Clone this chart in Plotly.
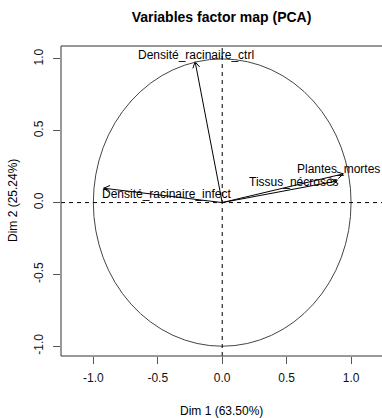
import math
import plotly.graph_objects as go

# ---- data ----
variables = ["Densité_racinaire_ctrl", "Plantes_mortes", "Tissus_nécrosés", "Densité_racinaire_infect"]
dim1 = [-0.21, 0.94, 0.89, -0.92]
dim2 = [0.98, 0.20, 0.15, 0.10]
x_ticks = [-1.0, -0.5, 0.0, 0.5, 1.0]
y_ticks = [-1.0, -0.5, 0.0, 0.5, 1.0]
x_tick_labels = ["-1.0", "-0.5", "0.0", "0.5", "1.0"]
y_tick_labels = ["-1.0", "-0.5", "0.0", "0.5", "1.0"]
title_text = "Variables factor map (PCA)"
x_title = "Dim 1 (63.50%)"
y_title = "Dim 2 (25.24%)"

# ---- layout geometry ----
W, H = 382, 418
ML, MR, MT, MB = 61, 0, 46, 62
XR = [-1.251, 1.240]
YR = [-1.068, 1.090]
pw = W - ML - MR
ph = H - MT - MB
sx = pw / (XR[1] - XR[0])   # px per unit
sy = ph / (YR[1] - YR[0])

FONT = "Liberation Sans, Arial, sans-serif"

# label offsets in pixels (relative to arrow tip), from autoLab placement
label_dx = [1, -5, -43, 63]
label_dy = [7, 5, -1, -6]

fig = go.Figure()

# arrows
head_len = 7.0
ang = math.radians(30)
for xv, yv in zip(dim1, dim2):
    fig.add_trace(go.Scatter(x=[0, xv], y=[0, yv], mode="lines",
                             line=dict(color="black", width=1), hoverinfo="skip", showlegend=False))
    # arrow head in pixel space
    px, py = xv * sx, yv * sy
    n = math.hypot(px, py)
    ux, uy = px / n, py / n
    hx, hy = [], []
    for s in (1, -1):
        c, si = math.cos(s * ang), math.sin(s * ang)
        rx = ux * c - uy * si
        ry = ux * si + uy * c
        hx.append(xv - head_len * rx / sx)
        hy.append(yv - head_len * ry / sy)
    fig.add_trace(go.Scatter(x=[hx[0], xv, hx[1]], y=[hy[0], yv, hy[1]], mode="lines",
                             line=dict(color="black", width=1), hoverinfo="skip", showlegend=False))

# labels
for name, xv, yv, dx, dy in zip(variables, dim1, dim2, label_dx, label_dy):
    fig.add_annotation(x=xv, y=yv, text=name, showarrow=False, xshift=dx, yshift=dy,
                       xanchor="center", yanchor="middle",
                       font=dict(family=FONT, size=12, color="black"))

shapes = [
    # correlation circle
    dict(type="circle", xref="x", yref="y", x0=-1, x1=1, y0=-1, y1=1,
         line=dict(color="#444", width=1)),
    # dashed axes
    dict(type="line", xref="x", yref="paper", x0=0, x1=0, y0=0, y1=1,
         line=dict(color="black", width=1, dash="4px,4px")),
    dict(type="line", xref="paper", yref="y", x0=0, x1=1, y0=0, y1=0,
         line=dict(color="black", width=1, dash="4px,4px")),
    # box (left, top, bottom)
    dict(type="line", xref="paper", yref="paper", x0=0, x1=0, y0=0, y1=1,
         line=dict(color="#333", width=1)),
    dict(type="line", xref="paper", yref="paper", x0=0, x1=1.01, y0=1, y1=1,
         line=dict(color="#333", width=1)),
    dict(type="line", xref="paper", yref="paper", x0=0, x1=1.01, y0=0, y1=0,
         line=dict(color="#333", width=1)),
]

fig.update_layout(
    width=W, height=H,
    margin=dict(l=ML, r=MR, t=MT, b=MB, pad=0),
    paper_bgcolor="white", plot_bgcolor="white",
    showlegend=False,
    shapes=shapes,
    font=dict(family=FONT, size=12, color="black"),
    title=dict(text="<b>" + title_text + "</b>", x=(ML + pw / 2) / W, xanchor="center",
               y=1 - 17 / H, yanchor="middle", yref="container",
               font=dict(family=FONT, size=14, color="black")),
    xaxis=dict(range=XR, showgrid=False, zeroline=False, showline=False,
               tickmode="array", tickvals=x_ticks, ticktext=x_tick_labels,
               ticks="outside", ticklen=7, tickcolor="#555", tickwidth=1,
               ticklabelstandoff=4,
               tickfont=dict(family=FONT, size=12, color="#111")),
    yaxis=dict(range=YR, showgrid=False, zeroline=False, showline=False,
               tickmode="array", tickvals=y_ticks, ticktext=y_tick_labels,
               ticks="outside", ticklen=7, tickcolor="#555", tickwidth=1, tickangle=-90,
               ticklabelstandoff=5,
               tickfont=dict(family=FONT, size=12, color="#111")),
)

fig.add_annotation(text=x_title, xref="paper", yref="paper", x=0.5, y=0,
                   yshift=-(411 - (H - MB)), xanchor="center", yanchor="middle",
                   showarrow=False, font=dict(family=FONT, size=12, color="black"))
fig.add_annotation(text=y_title, xref="paper", yref="paper", x=0, y=0.5,
                   xshift=-(ML - 13), xanchor="center", yanchor="middle", textangle=-90,
                   showarrow=False, font=dict(family=FONT, size=12, color="black"))

fig.write_html("out.html", config={"displayModeBar": False},
               post_script="document.body.style.margin='0';document.body.style.overflow='hidden';")
